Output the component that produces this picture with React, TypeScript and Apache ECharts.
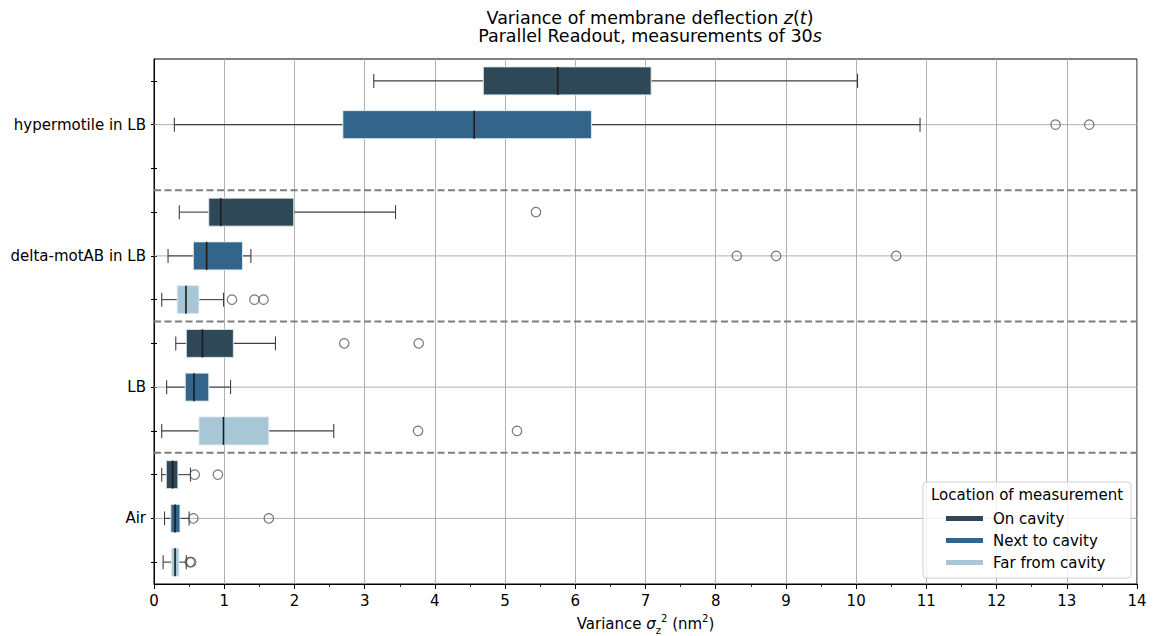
import React, { useEffect, useRef } from 'react';
import * as echarts from 'echarts';

const categories = ['hypermotile in LB', 'delta-motAB in LB', 'LB', 'Air'];
const locations = ['On cavity', 'Next to cavity', 'Far from cavity'];
const locationColors = ['#2F4858', '#33658A', '#A7C7D7'];

// [low whisker, Q1, median, Q3, high whisker] per category (null = no data)
const onCavityBoxes = [
  [3.13, 4.69, 5.75, 7.08, 10.02],
  [0.36, 0.78, 0.95, 1.99, 3.44],
  [0.31, 0.46, 0.69, 1.13, 1.73],
  [0.11, 0.175, 0.265, 0.34, 0.52],
];
const nextToCavityBoxes = [
  [0.29, 2.69, 4.56, 6.23, 10.91],
  [0.2, 0.56, 0.75, 1.26, 1.38],
  [0.18, 0.445, 0.57, 0.78, 1.09],
  [0.15, 0.24, 0.3, 0.37, 0.5],
];
const farFromCavityBoxes = [
  null,
  [0.11, 0.33, 0.455, 0.64, 0.99],
  [0.11, 0.64, 0.99, 1.635, 2.56],
  [0.13, 0.25, 0.3, 0.355, 0.46],
];

const onCavityOutliers = [[], [5.44], [2.71, 3.77], [0.58, 0.91]];
const nextToCavityOutliers = [[12.84, 13.32], [8.3, 8.86, 10.57], [], [0.56, 1.635]];
const farFromCavityOutliers = [[], [1.11, 1.43, 1.56], [3.76, 5.17], [0.51, 0.53]];

const boxesByLocation = [onCavityBoxes, nextToCavityBoxes, farFromCavityBoxes];
const outliersByLocation = [onCavityOutliers, nextToCavityOutliers, farFromCavityOutliers];

const slotNames: string[] = [];
categories.forEach((c) => locations.forEach((l) => slotNames.push(c + ' | ' + l)));
const nLoc = locations.length;

const FONT = 'DejaVu Sans';

export default function App() {
  const ref = useRef<HTMLDivElement>(null);
  useEffect(() => {
    if (!ref.current) return;
    const chart = echarts.init(ref.current, null, { renderer: 'svg' });

    const renderBox = (color: string) => (params: any, api: any) => {
      const slot = api.value(0);
      const lo = api.coord([api.value(1), slot]);
      const q1 = api.coord([api.value(2), slot]);
      const md = api.coord([api.value(3), slot]);
      const q3 = api.coord([api.value(4), slot]);
      const hi = api.coord([api.value(5), slot]);
      const y = lo[1];
      const band = api.size([0, 1])[1];
      const h = band * 0.64;
      const cap = h / 2;
      const ws = { stroke: '#3f3f3f', lineWidth: 1.1 };
      return {
        type: 'group',
        children: [
          { type: 'line', shape: { x1: lo[0], y1: y, x2: q1[0], y2: y }, style: ws },
          { type: 'line', shape: { x1: q3[0], y1: y, x2: hi[0], y2: y }, style: ws },
          { type: 'line', shape: { x1: lo[0], y1: y - cap / 2, x2: lo[0], y2: y + cap / 2 }, style: ws },
          { type: 'line', shape: { x1: hi[0], y1: y - cap / 2, x2: hi[0], y2: y + cap / 2 }, style: ws },
          {
            type: 'rect',
            shape: { x: q1[0], y: y - h / 2, width: q3[0] - q1[0], height: h },
            style: { fill: color, stroke: 'rgba(225,235,242,0.9)', lineWidth: 1 },
          },
          {
            type: 'line',
            shape: { x1: md[0], y1: y - h / 2, x2: md[0], y2: y + h / 2 },
            style: { stroke: '#1c1c1c', lineWidth: 1.6 },
          },
        ],
      };
    };

    const boxSeries = locations.map((loc, li) => ({
      name: loc,
      type: 'custom',
      z: 3,
      itemStyle: { color: locationColors[li] },
      encode: { x: [1, 2, 3, 4, 5], y: 0 },
      renderItem: renderBox(locationColors[li]),
      data: boxesByLocation[li]
        .map((b, ci) => (b ? [ci * nLoc + li, ...b] : null))
        .filter((d) => d !== null),
    }));

    const outlierSeries = locations.map((loc, li) => ({
      name: loc + ' outliers',
      type: 'scatter',
      z: 4,
      symbol: 'circle',
      symbolSize: 9.5,
      itemStyle: { color: 'rgba(0,0,0,0)', borderColor: '#555555', borderWidth: 1.2 },
      data: outliersByLocation[li].flatMap((vals, ci) => vals.map((v) => [v, ci * nLoc + li])),
    }));

    const groupGridSeries = {
      name: 'group grid',
      type: 'custom',
      z: 1,
      silent: true,
      encode: { y: 0 },
      renderItem: (params: any, api: any) => {
        const slot = api.value(0);
        const y = api.coord([0, slot])[1];
        const cs = params.coordSys;
        return {
          type: 'line',
          shape: { x1: cs.x, y1: y, x2: cs.x + cs.width, y2: y },
          style: { stroke: '#b0b0b0', lineWidth: 1 },
        };
      },
      data: categories.map((_, ci) => [ci * nLoc + 1]),
    };

    const separatorSeries = {
      name: 'separators',
      type: 'custom',
      z: 5,
      silent: true,
      encode: { y: 0 },
      renderItem: (params: any, api: any) => {
        const slot = api.value(0);
        const band = api.size([0, 1])[1];
        const y = api.coord([0, slot])[1] + band / 2;
        const cs = params.coordSys;
        return {
          type: 'line',
          shape: { x1: cs.x, y1: y, x2: cs.x + cs.width, y2: y },
          style: { stroke: '#7f7f7f', lineWidth: 2, lineDash: [7, 3.5] },
        };
      },
      data: categories.slice(0, -1).map((_, ci) => [ci * nLoc + nLoc - 1]),
    };

    const yBase = {
      type: 'category',
      data: slotNames,
      inverse: true,
      position: 'left',
      offset: 0,
      splitLine: { show: false },
    };

    chart.setOption({
      animation: false,
      textStyle: { fontFamily: FONT },
      title: {
        text: 'Variance of membrane deflection {i|z}({i|t})\nParallel Readout, measurements of 30{i|s}',
        left: 645,
        top: 4,
        textAlign: 'center',
        textStyle: {
          fontFamily: FONT,
          fontSize: 17.5,
          fontWeight: 'normal',
          color: '#000',
          lineHeight: 18,
          rich: {
            i: { fontFamily: FONT, fontSize: 17.5, fontStyle: 'italic', color: '#000', lineHeight: 18 },
          },
        },
      },
      grid: {
        left: 154,
        right: 18,
        top: 59,
        bottom: 52,
        outerBoundsMode: 'none',
        containLabel: false,
        show: true,
        borderColor: '#000',
        borderWidth: 1,
        backgroundColor: 'rgba(0,0,0,0)',
      },
      legend: {
        data: locations,
        orient: 'vertical',
        left: 941,
        top: 506,
        icon: 'rect',
        itemWidth: 37,
        itemHeight: 5,
        itemGap: 7,
        z: 20,
        selectedMode: false,
        textStyle: { fontFamily: FONT, fontSize: 15, color: '#000', padding: [0, 0, 0, 5] },
      },
      graphic: [
        {
          type: 'rect',
          z: 10,
          shape: { x: 923, y: 482, width: 208, height: 96, r: 3 },
          style: { fill: 'rgba(255,255,255,0.8)', stroke: '#d0d0d0', lineWidth: 1 },
        },
        {
          type: 'text',
          z: 20,
          x: 1027,
          y: 495,
          style: {
            text: 'Location of measurement',
            fontFamily: FONT,
            fontSize: 15,
            fill: '#000',
            align: 'center',
            verticalAlign: 'middle',
          },
        },
      ],
      xAxis: {
        type: 'value',
        min: 0,
        max: 14,
        interval: 1,
        name: 'Variance {i|σ}{sub|z}{sup|2} (nm{sup|2})',
        nameLocation: 'middle',
        nameGap: 29,
        nameTextStyle: {
          fontFamily: FONT,
          fontSize: 15,
          color: '#000',
          lineHeight: 22,
          rich: {
            i: { fontFamily: FONT, fontSize: 15, fontStyle: 'italic', color: '#000', lineHeight: 22 },
            sup: { fontFamily: FONT, fontSize: 10, color: '#000', verticalAlign: 'top', lineHeight: 22 },
            sub: { fontFamily: FONT, fontSize: 10, color: '#000', verticalAlign: 'bottom', lineHeight: 22 },
          },
        },
        axisLine: { show: true, lineStyle: { color: '#000', width: 1 } },
        axisTick: { show: true, length: 5, lineStyle: { color: '#000', width: 1 } },
        minorTick: { show: true, splitNumber: 2, length: 3, lineStyle: { color: '#000', width: 0.8 } },
        axisLabel: { fontFamily: FONT, fontSize: 15, color: '#000', margin: 9 },
        splitLine: { show: true, lineStyle: { color: '#b0b0b0', width: 1 } },
        minorSplitLine: { show: false },
      },
      yAxis: [
        {
          ...yBase,
          axisLine: { show: true, lineStyle: { color: '#000', width: 1 } },
          axisTick: { show: true, alignWithLabel: true, interval: 0, length: 3, lineStyle: { color: '#000', width: 1 } },
          axisLabel: {
            interval: 0,
            fontFamily: FONT,
            fontSize: 15,
            color: '#000',
            margin: 8,
            formatter: (_v: string, idx: number) =>
              idx % nLoc === 1 ? categories[Math.floor(idx / nLoc)] : '',
          },
        },
        {
          ...yBase,
          axisLine: { show: false },
          axisTick: { show: true, inside: true, alignWithLabel: true, interval: 0, length: 3, lineStyle: { color: '#000', width: 1 } },
          axisLabel: { show: false },
        },
      ],
      series: [groupGridSeries, ...boxSeries, ...outlierSeries, separatorSeries],
    });

    return () => chart.dispose();
  }, []);

  return (
    <div
      ref={ref}
      style={{ position: 'absolute', left: 0, top: 0, width: 1155, height: 636, background: '#fff' }}
    />
  );
}
